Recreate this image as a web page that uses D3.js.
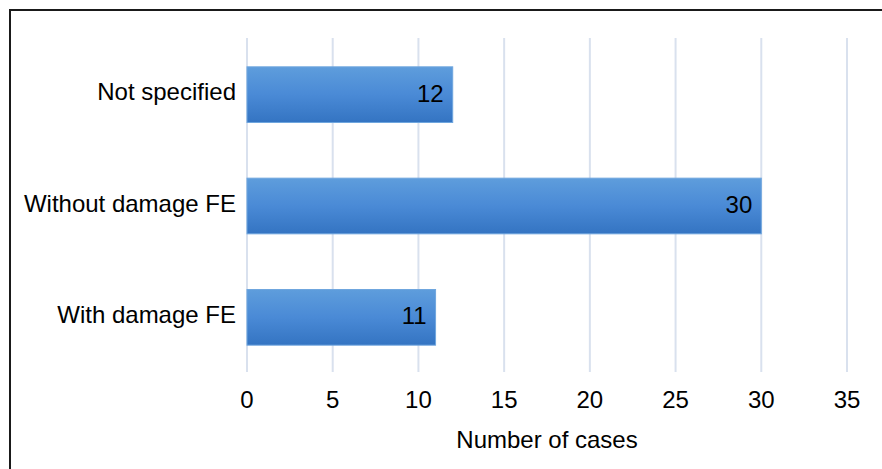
<!DOCTYPE html>
<html><head><meta charset="utf-8">
<script src="https://cdn.jsdelivr.net/npm/d3@7"></script>
<style>body{margin:0;background:#fff}svg{display:block}text{font-family:"Liberation Sans",Arial,sans-serif}</style>
</head><body><svg id="c" width="882" height="469"></svg>
<script>
const categories = ["Not specified", "Without damage FE", "With damage FE"];
const values = [12, 30, 11];
const ticks = [0, 5, 10, 15, 20, 25, 30, 35];
const xTitle = "Number of cases";

const svg = d3.select("#c");
const defs = svg.append("defs");
const g = defs.append("linearGradient").attr("id","bg").attr("x1",0).attr("y1",0).attr("x2",0).attr("y2",1);
g.append("stop").attr("offset","0%").attr("stop-color","#5e9ddc");
g.append("stop").attr("offset","50%").attr("stop-color","#4a8ad6");
g.append("stop").attr("offset","100%").attr("stop-color","#3474c2");

// frame
svg.append("path").attr("d","M10,469 L10,10 L882,10").attr("fill","none").attr("stroke","#1a1a1a").attr("stroke-width",2);

const x = d3.scaleLinear().domain([0,35]).range([247,847]);
const y = d3.scaleBand().domain(categories).range([39,373]).paddingInner(0.5).paddingOuter(0.25);

svg.append("g").selectAll("line").data(ticks).join("line")
  .attr("x1",d=>x(d)).attr("x2",d=>x(d)).attr("y1",38).attr("y2",372)
  .attr("stroke","#d9e1ee").attr("stroke-width",2);

svg.append("g").selectAll("rect").data(values).join("rect")
  .attr("x",x(0)).attr("y",(d,i)=>y(categories[i]))
  .attr("width",d=>x(d)-x(0)).attr("height",y.bandwidth())
  .attr("fill","url(#bg)").attr("stroke","#6fa6de").attr("stroke-width",1);

svg.append("g").selectAll("text").data(values).join("text")
  .attr("x",d=>x(d)-9).attr("y",(d,i)=>y(categories[i])+y.bandwidth()/2+7)
  .attr("text-anchor","end").attr("font-size",24).attr("fill","#000").text(d=>d);

svg.append("g").selectAll("text").data(categories).join("text")
  .attr("x",236).attr("y",d=>y(d)+y.bandwidth()/2+5.5)
  .attr("text-anchor","end").attr("font-size",24).attr("fill","#000").text(d=>d);

svg.append("g").selectAll("text").data(ticks).join("text")
  .attr("x",d=>x(d)).attr("y",408)
  .attr("text-anchor","middle").attr("font-size",24).attr("fill","#000").text(d=>d);

svg.append("text").attr("x",x(17.5)).attr("y",448).attr("text-anchor","middle")
  .attr("font-size",24).attr("fill","#000").text(xTitle);
</script></body></html>
